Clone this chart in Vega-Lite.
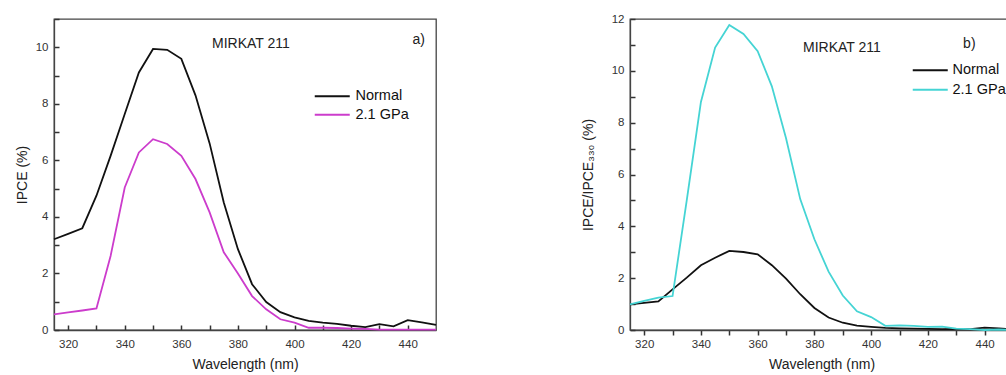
{
  "$schema": "https://vega.github.io/schema/vega-lite/v6.json",
  "padding": {"left": 14, "top": 12, "right": 0, "bottom": 0},
  "background": "white",
  "spacing": 139,
  "config": {
    "font": "Liberation Sans",
    "view": {"stroke": "#444", "strokeWidth": 1.3},
    "axis": {
      "grid": false, "domainColor": "#444", "domainWidth": 1.3,
      "ticks": true, "tickColor": "#333", "tickWidth": 1.5,
      "labelFont": "Liberation Sans", "labelFontSize": 11.5, "labelColor": "#333",
      "labelFlush": false, "labelOverlap": false,
      "titleFont": "Liberation Sans", "titleFontSize": 14, "titleFontWeight": "normal", "titleColor": "#222"
    },
    "legend": {
      "title": null, "orient": "none", "padding": 0, "offset": 0,
      "symbolType": "M -5 0 L 5 0", "symbolSize": 49, "symbolStrokeWidth": 2,
      "labelFont": "Liberation Sans", "labelFontSize": 14.5, "labelColor": "#111"
    }
  },
  "datasets": {
    "a": [
      {"wl": 315, "series": "Normal", "v": 3.21}, {"wl": 320, "series": "Normal", "v": 3.4},
      {"wl": 325, "series": "Normal", "v": 3.6}, {"wl": 330, "series": "Normal", "v": 4.75},
      {"wl": 335, "series": "Normal", "v": 6.16}, {"wl": 340, "series": "Normal", "v": 7.64},
      {"wl": 345, "series": "Normal", "v": 9.11}, {"wl": 350, "series": "Normal", "v": 9.94},
      {"wl": 355, "series": "Normal", "v": 9.91}, {"wl": 360, "series": "Normal", "v": 9.59},
      {"wl": 365, "series": "Normal", "v": 8.3}, {"wl": 370, "series": "Normal", "v": 6.6},
      {"wl": 375, "series": "Normal", "v": 4.51}, {"wl": 380, "series": "Normal", "v": 2.86},
      {"wl": 385, "series": "Normal", "v": 1.62}, {"wl": 390, "series": "Normal", "v": 0.99},
      {"wl": 395, "series": "Normal", "v": 0.63}, {"wl": 400, "series": "Normal", "v": 0.45},
      {"wl": 405, "series": "Normal", "v": 0.32}, {"wl": 410, "series": "Normal", "v": 0.26},
      {"wl": 415, "series": "Normal", "v": 0.22}, {"wl": 420, "series": "Normal", "v": 0.15},
      {"wl": 425, "series": "Normal", "v": 0.1}, {"wl": 430, "series": "Normal", "v": 0.21},
      {"wl": 435, "series": "Normal", "v": 0.13}, {"wl": 440, "series": "Normal", "v": 0.35},
      {"wl": 445, "series": "Normal", "v": 0.27}, {"wl": 450, "series": "Normal", "v": 0.18},
      {"wl": 315, "series": "2.1 GPa", "v": 0.55}, {"wl": 320, "series": "2.1 GPa", "v": 0.62},
      {"wl": 325, "series": "2.1 GPa", "v": 0.69}, {"wl": 330, "series": "2.1 GPa", "v": 0.76},
      {"wl": 335, "series": "2.1 GPa", "v": 2.62}, {"wl": 340, "series": "2.1 GPa", "v": 5.04},
      {"wl": 345, "series": "2.1 GPa", "v": 6.28}, {"wl": 350, "series": "2.1 GPa", "v": 6.75},
      {"wl": 355, "series": "2.1 GPa", "v": 6.58}, {"wl": 360, "series": "2.1 GPa", "v": 6.16},
      {"wl": 365, "series": "2.1 GPa", "v": 5.34}, {"wl": 370, "series": "2.1 GPa", "v": 4.16},
      {"wl": 375, "series": "2.1 GPa", "v": 2.75}, {"wl": 380, "series": "2.1 GPa", "v": 2.0},
      {"wl": 385, "series": "2.1 GPa", "v": 1.2}, {"wl": 390, "series": "2.1 GPa", "v": 0.73},
      {"wl": 395, "series": "2.1 GPa", "v": 0.38}, {"wl": 400, "series": "2.1 GPa", "v": 0.26},
      {"wl": 405, "series": "2.1 GPa", "v": 0.08}, {"wl": 410, "series": "2.1 GPa", "v": 0.08},
      {"wl": 415, "series": "2.1 GPa", "v": 0.07}, {"wl": 420, "series": "2.1 GPa", "v": 0.05},
      {"wl": 425, "series": "2.1 GPa", "v": 0.04}, {"wl": 430, "series": "2.1 GPa", "v": 0.01},
      {"wl": 435, "series": "2.1 GPa", "v": 0.01}, {"wl": 440, "series": "2.1 GPa", "v": 0.01},
      {"wl": 445, "series": "2.1 GPa", "v": 0.01}, {"wl": 450, "series": "2.1 GPa", "v": 0.01}
    ],
    "b": [
      {"wl": 315, "series": "Normal", "v": 0.99}, {"wl": 320, "series": "Normal", "v": 1.05},
      {"wl": 325, "series": "Normal", "v": 1.1}, {"wl": 330, "series": "Normal", "v": 1.57},
      {"wl": 335, "series": "Normal", "v": 2.02}, {"wl": 340, "series": "Normal", "v": 2.5},
      {"wl": 345, "series": "Normal", "v": 2.79}, {"wl": 350, "series": "Normal", "v": 3.05},
      {"wl": 355, "series": "Normal", "v": 3.01}, {"wl": 360, "series": "Normal", "v": 2.92},
      {"wl": 365, "series": "Normal", "v": 2.5}, {"wl": 370, "series": "Normal", "v": 1.98},
      {"wl": 375, "series": "Normal", "v": 1.38}, {"wl": 380, "series": "Normal", "v": 0.85},
      {"wl": 385, "series": "Normal", "v": 0.48}, {"wl": 390, "series": "Normal", "v": 0.28},
      {"wl": 395, "series": "Normal", "v": 0.17}, {"wl": 400, "series": "Normal", "v": 0.12},
      {"wl": 405, "series": "Normal", "v": 0.08}, {"wl": 410, "series": "Normal", "v": 0.06},
      {"wl": 415, "series": "Normal", "v": 0.05}, {"wl": 420, "series": "Normal", "v": 0.04},
      {"wl": 425, "series": "Normal", "v": 0.03}, {"wl": 430, "series": "Normal", "v": 0.04},
      {"wl": 435, "series": "Normal", "v": 0.03}, {"wl": 440, "series": "Normal", "v": 0.09},
      {"wl": 445, "series": "Normal", "v": 0.06}, {"wl": 450, "series": "Normal", "v": 0.02},
      {"wl": 315, "series": "2.1 GPa", "v": 0.99}, {"wl": 320, "series": "2.1 GPa", "v": 1.12},
      {"wl": 325, "series": "2.1 GPa", "v": 1.25}, {"wl": 330, "series": "2.1 GPa", "v": 1.31},
      {"wl": 335, "series": "2.1 GPa", "v": 5.0}, {"wl": 340, "series": "2.1 GPa", "v": 8.8},
      {"wl": 345, "series": "2.1 GPa", "v": 10.9}, {"wl": 350, "series": "2.1 GPa", "v": 11.77},
      {"wl": 355, "series": "2.1 GPa", "v": 11.42}, {"wl": 360, "series": "2.1 GPa", "v": 10.76},
      {"wl": 365, "series": "2.1 GPa", "v": 9.4}, {"wl": 370, "series": "2.1 GPa", "v": 7.4},
      {"wl": 375, "series": "2.1 GPa", "v": 5.05}, {"wl": 380, "series": "2.1 GPa", "v": 3.5},
      {"wl": 385, "series": "2.1 GPa", "v": 2.25}, {"wl": 390, "series": "2.1 GPa", "v": 1.33},
      {"wl": 395, "series": "2.1 GPa", "v": 0.72}, {"wl": 400, "series": "2.1 GPa", "v": 0.5},
      {"wl": 405, "series": "2.1 GPa", "v": 0.16}, {"wl": 410, "series": "2.1 GPa", "v": 0.18},
      {"wl": 415, "series": "2.1 GPa", "v": 0.16}, {"wl": 420, "series": "2.1 GPa", "v": 0.12},
      {"wl": 425, "series": "2.1 GPa", "v": 0.13}, {"wl": 430, "series": "2.1 GPa", "v": 0.05},
      {"wl": 435, "series": "2.1 GPa", "v": 0.03}, {"wl": 440, "series": "2.1 GPa", "v": 0.0},
      {"wl": 445, "series": "2.1 GPa", "v": 0.02}, {"wl": 450, "series": "2.1 GPa", "v": 0.0}
    ],
    "notesA": [
      {"wl": 384.6, "v": 10.1, "note": "MIRKAT 211"},
      {"wl": 443.9, "v": 10.24, "note": "a)"}
    ],
    "notesB": [
      {"wl": 389.7, "v": 10.9, "note": "MIRKAT 211"},
      {"wl": 434.6, "v": 11.03, "note": "b)"}
    ]
  },
  "hconcat": [
    {
      "width": 382,
      "height": 311,
      "encoding": {
        "x": {
          "field": "wl", "type": "quantitative",
          "scale": {"domain": [315, 450], "nice": false, "zero": false},
          "axis": {
            "title": "Wavelength (nm)", "ticks": true,
            "values": [320, 330, 340, 350, 360, 370, 380, 390, 400, 410, 420, 430, 440],
            "labelExpr": "datum.value % 20 === 0 ? datum.label : ''",
            "tickSize": -5,
            "labelPadding": 13, "titlePadding": 8
          }
        },
        "y": {
          "field": "v", "type": "quantitative",
          "scale": {"domain": [0, 11], "nice": false},
          "axis": {
            "title": "IPCE (%)", "ticks": true,
            "values": [0, 1, 2, 3, 4, 5, 6, 7, 8, 9, 10, 11],
            "labelExpr": "datum.value % 2 === 0 ? datum.label : ''",
            "tickSize": -5, "labelPadding": 11, "titlePadding": 6
          }
        }
      },
      "layer": [
        {
          "data": {"name": "a"},
          "mark": {"type": "line", "strokeWidth": 1.8},
          "encoding": {
            "color": {
              "field": "series", "type": "nominal",
              "scale": {"domain": ["Normal", "2.1 GPa"], "range": ["#111111", "#cc3ccc"]},
              "legend": {"legendX": 271, "legendY": 70, "labelOffset": 16, "rowPadding": 3.5}
            }
          }
        },
        {
          "data": {"name": "notesA"},
          "mark": {"type": "text", "fontSize": 14, "color": "#222", "font": "Liberation Sans"},
          "encoding": {"text": {"field": "note"}}
        }
      ]
    },
    {
      "width": 383,
      "height": 311,
      "encoding": {
        "x": {
          "field": "wl", "type": "quantitative",
          "scale": {"domain": [315, 450], "nice": false, "zero": false},
          "axis": {
            "title": "Wavelength (nm)", "ticks": true,
            "values": [320, 330, 340, 350, 360, 370, 380, 390, 400, 410, 420, 430, 440],
            "labelExpr": "datum.value % 20 === 0 ? datum.label : ''",
            "tickSize": 5,
            "labelPadding": 3, "titlePadding": 8
          }
        },
        "y": {
          "field": "v", "type": "quantitative",
          "scale": {"domain": [0, 12], "nice": false},
          "axis": {
            "title": "IPCE/IPCE₃₃₀ (%)", "ticks": true,
            "values": [0, 1, 2, 3, 4, 5, 6, 7, 8, 9, 10, 11, 12],
            "labelExpr": "datum.value % 2 === 0 ? datum.label : ''",
            "tickSize": -5, "labelPadding": 11, "titlePadding": 16
          }
        }
      },
      "layer": [
        {
          "data": {"name": "b"},
          "mark": {"type": "line", "strokeWidth": 1.8},
          "encoding": {
            "color": {
              "field": "series", "type": "nominal",
              "scale": {"domain": ["Normal", "2.1 GPa"], "range": ["#111111", "#45d4d4"]},
              "legend": {"legendX": 293, "legendY": 44, "labelOffset": 15, "rowPadding": 4.5}
            }
          }
        },
        {
          "data": {"name": "notesB"},
          "mark": {"type": "text", "fontSize": 14, "color": "#222", "font": "Liberation Sans"},
          "encoding": {"text": {"field": "note"}}
        }
      ]
    }
  ],
  "resolve": {"scale": {"color": "independent", "x": "independent", "y": "independent"}, "legend": {"color": "independent"}}
}
